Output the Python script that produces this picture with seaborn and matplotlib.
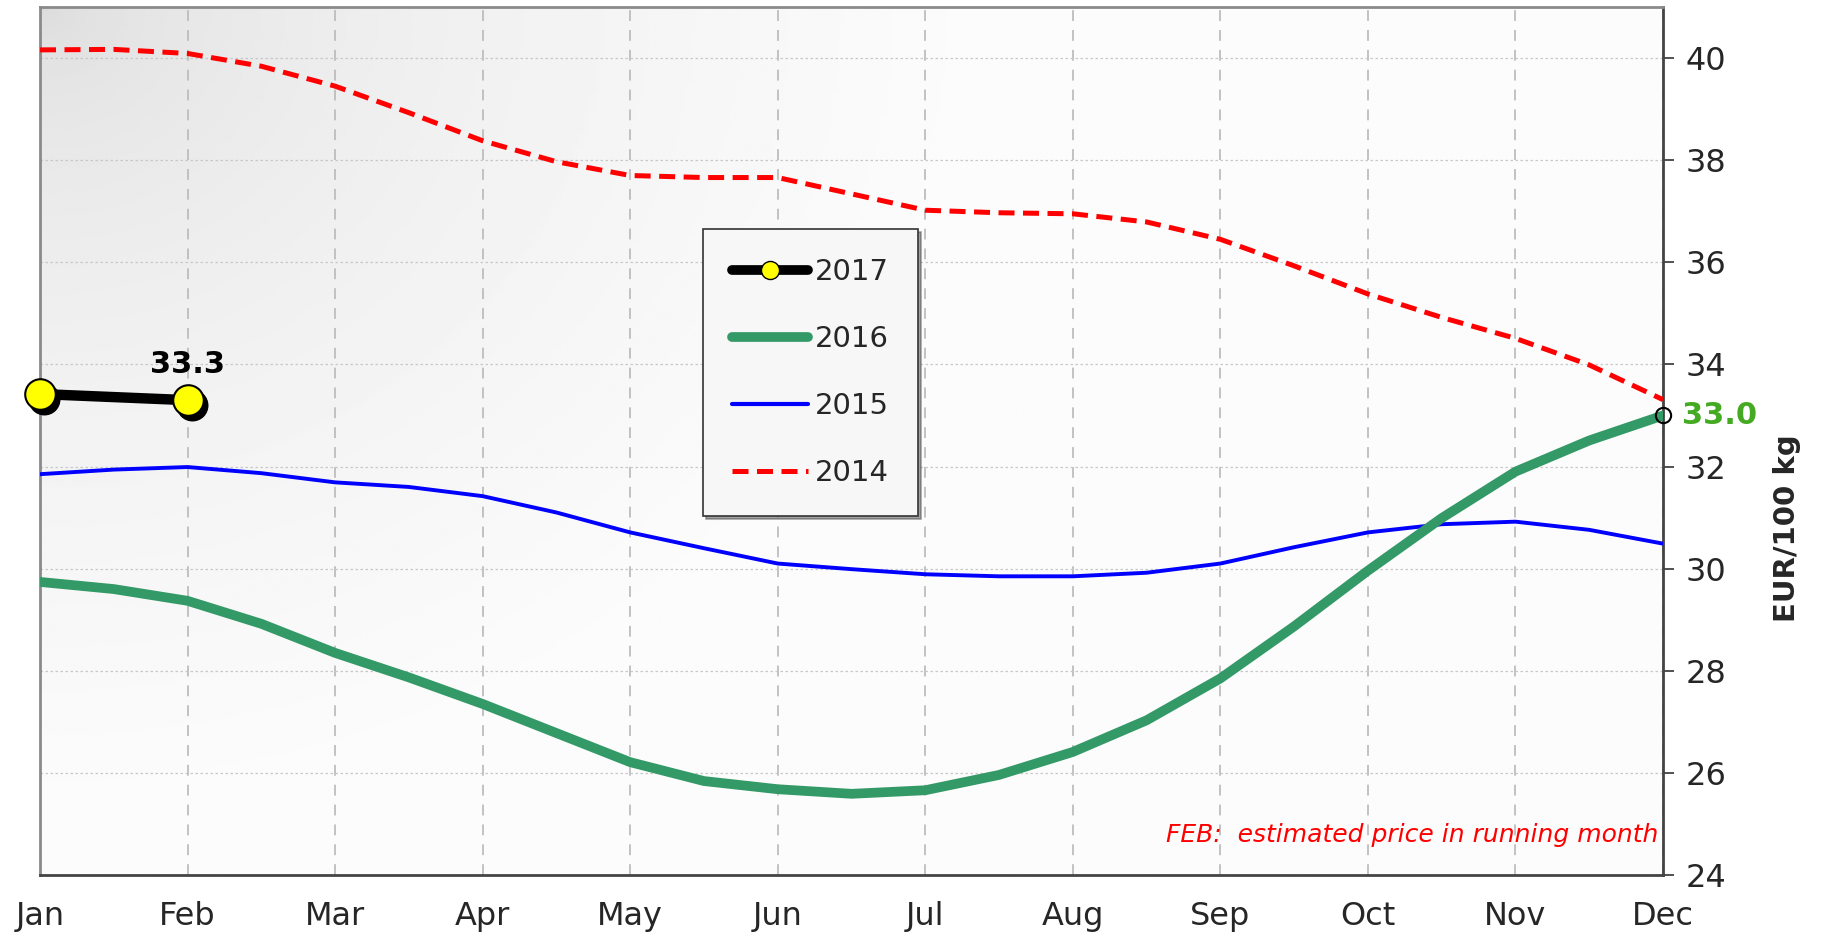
import numpy as np
import pandas as pd
import matplotlib
matplotlib.use('Agg')
import matplotlib.pyplot as plt
import matplotlib.transforms as mtransforms
from matplotlib.lines import Line2D
import seaborn as sns

# month labels and half-month positions
months = ['Jan', 'Feb', 'Mar', 'Apr', 'May', 'Jun', 'Jul', 'Aug', 'Sep', 'Oct', 'Nov', 'Dec']
x_half = np.arange(23) / 2

price_2014 = [40.16, 40.17, 40.09, 39.84, 39.45, 38.93, 38.38, 37.97, 37.70, 37.66, 37.66, 37.34,
              37.02, 36.97, 36.95, 36.79, 36.45, 35.93, 35.38, 34.92, 34.51, 33.99, 33.31]
price_2015 = [31.85, 31.94, 31.99, 31.87, 31.69, 31.60, 31.42, 31.10, 30.71, 30.40, 30.10, 29.99,
              29.89, 29.85, 29.85, 29.92, 30.10, 30.42, 30.71, 30.87, 30.92, 30.76, 30.49]
price_2016 = [29.74, 29.60, 29.37, 28.92, 28.35, 27.87, 27.35, 26.78, 26.21, 25.84, 25.68, 25.59,
              25.66, 25.96, 26.41, 27.03, 27.85, 28.87, 29.96, 30.99, 31.90, 32.51, 33.00]
x_2017 = [0, 1]
price_2017 = [33.42, 33.30]

yticks = [24, 26, 28, 30, 32, 34, 36, 38, 40]

sns.set_style('white')
plt.rcParams['font.family'] = ['DejaVu Sans']

fig = plt.figure(figsize=(18.24, 9.34), dpi=100)
ax = fig.add_axes([40 / 1824, 1 - 875 / 934, 1623 / 1824, 868 / 934])

# background gradient (dark grey top-left -> near white)
gx, gy = np.meshgrid(np.linspace(0, 1, 300), np.linspace(0, 1, 300))
d = np.clip(np.sqrt((gx * 1.6) ** 2 + (gy * 1.0) ** 2) / 0.9, 0, 1)
shade = 0.855 + (0.985 - 0.855) * np.sqrt(d)
ax.imshow(shade, cmap='gray', vmin=0, vmax=1, extent=[0, 1, 0, 1], origin='upper',
          transform=ax.transAxes, aspect='auto', zorder=0)

# grid
for i in range(12):
    ax.axvline(i, color='#bdbdbd', lw=1.3, ls=(0, (6, 5)), zorder=1)
for v in yticks:
    ax.axhline(v, color='#c8c8c8', lw=0.9, ls=(0, (2, 2)), zorder=1)

df14 = pd.DataFrame({'x': x_half, 'y': price_2014})
df15 = pd.DataFrame({'x': x_half, 'y': price_2015})
df16 = pd.DataFrame({'x': x_half, 'y': price_2016})
df17 = pd.DataFrame({'x': x_2017, 'y': price_2017})

sns.lineplot(data=df14, x='x', y='y', ax=ax, color='#ff0000', lw=3.6, zorder=3)
ax.lines[-1].set_dashes((3.2, 1.7))
sns.lineplot(data=df15, x='x', y='y', ax=ax, color='#0000ff', lw=2.8, zorder=3)
sns.lineplot(data=df16, x='x', y='y', ax=ax, color='#339966', lw=7, zorder=4,
             solid_capstyle='round')

# 2017 with shadowed markers
shadow = mtransforms.offset_copy(ax.transData, fig=fig, x=4, y=-5, units='dots')
ax.plot(x_2017, price_2017, 'o', ms=22, color='black', transform=shadow, zorder=5,
        clip_on=False)
sns.lineplot(data=df17, x='x', y='y', ax=ax, color='black', lw=7.5, zorder=6,
             solid_capstyle='round')
ax.plot(x_2017, price_2017, 'o', ms=22, mfc='#ffff00', mec='black', mew=1.5, zorder=7,
        clip_on=False)

# end marker for 2016
ax.plot([11], [price_2016[-1]], 'o', ms=11, mfc='none', mec='black', mew=1.5, zorder=8,
        clip_on=False)

ax.text(1, price_2017[1] + 0.42, f'{price_2017[1]:.1f}', ha='center', va='bottom',
        fontsize=22, fontweight='bold', color='black', zorder=9)
ax.text(11.13, price_2016[-1], f'{price_2016[-1]:.1f}', ha='left', va='center',
        fontsize=22, fontweight='bold', color='#44aa22', zorder=9, clip_on=False)
ax.text(0.997, 0.032, 'FEB:  estimated price in running month', transform=ax.transAxes,
        ha='right', va='bottom', fontsize=18, style='italic', color='#ff0000', zorder=9)

ax.set_xlim(0, 11)
ax.set_ylim(24, 41)
ax.set_xticks(range(12))
ax.set_xticklabels(months)
ax.set_yticks(yticks)
ax.yaxis.tick_right()
ax.yaxis.set_label_position('right')
ax.tick_params(axis='both', direction='out', length=8, width=1.2, color='#333333',
               labelsize=23)
ax.tick_params(axis='x', pad=11)
ax.tick_params(axis='y', pad=8)
ax.set_xlabel('')
ax.set_ylabel('EUR/100 kg', fontsize=21, fontweight='bold', labelpad=0)
ax.yaxis.set_label_coords(1.068, 0.40)

for side in ['left', 'top']:
    ax.spines[side].set_color('#8a8a8a')
    ax.spines[side].set_linewidth(2)
for side in ['right', 'bottom']:
    ax.spines[side].set_color('#444444')
    ax.spines[side].set_linewidth(2)

handles = [
    Line2D([], [], color='black', lw=7, marker='o', ms=13, mfc='#ffff00', mec='black',
           solid_capstyle='round'),
    Line2D([], [], color='#339966', lw=7, solid_capstyle='round'),
    Line2D([], [], color='#0000ff', lw=3),
    Line2D([], [], color='#ff0000', lw=3.6, dashes=(3.2, 1.7)),
]
leg = ax.legend(handles, ['2017', '2016', '2015', '2014'], loc='upper left',
                bbox_to_anchor=(0.4085, 0.744), fontsize=21, frameon=True,
                shadow=True, fancybox=False, handlelength=2.6, handletextpad=0.25,
                labelspacing=1.33, borderpad=1.0, borderaxespad=0)
leg.get_frame().set_edgecolor('#333333')
leg.get_frame().set_facecolor('#f7f7f7')
leg.get_frame().set_linewidth(1.2)
leg.set_zorder(10)

fig.savefig('out.png', dpi=100)
